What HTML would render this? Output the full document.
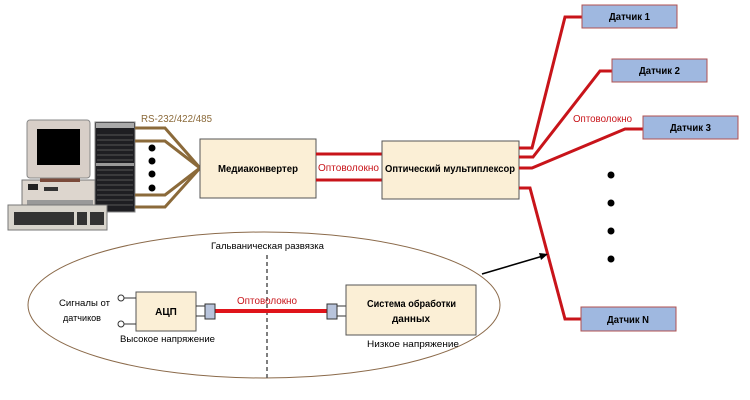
<!DOCTYPE html>
<html><head><meta charset="utf-8"><style>
body{margin:0;background:#fff;}
svg{display:block;font-family:"Liberation Sans","DejaVu Sans",sans-serif;}
</style></head><body>
<svg width="750" height="400" viewBox="0 0 750 400" xmlns="http://www.w3.org/2000/svg">
<!-- computer -->
<rect x="95" y="122" width="40" height="90" fill="#1e1e22" stroke="#888" stroke-width="1"/>
<g stroke="#555" stroke-width="1">
<line x1="97" y1="135" x2="133" y2="135"/><line x1="97" y1="140" x2="133" y2="140"/><line x1="97" y1="145" x2="133" y2="145"/><line x1="97" y1="150" x2="133" y2="150"/><line x1="97" y1="155" x2="133" y2="155"/><line x1="97" y1="160" x2="133" y2="160"/><line x1="97" y1="170" x2="133" y2="170"/><line x1="97" y1="175" x2="133" y2="175"/><line x1="97" y1="180" x2="133" y2="180"/><line x1="97" y1="185" x2="133" y2="185"/><line x1="97" y1="190" x2="133" y2="190"/><line x1="97" y1="195" x2="133" y2="195"/><line x1="97" y1="200" x2="133" y2="200"/><line x1="97" y1="205" x2="133" y2="205"/></g>
<rect x="96" y="123" width="38" height="5" fill="#aaa"/>
<rect x="96" y="163" width="38" height="3" fill="#999"/>
<rect x="22" y="180" width="73" height="28" fill="#ddd6ce" stroke="#777"/>
<rect x="28" y="184" width="10" height="6" fill="#222"/>
<rect x="44" y="187" width="14" height="4" fill="#333"/>
<rect x="27" y="200" width="66" height="5" fill="#999"/>
<rect x="40" y="176" width="40" height="6" fill="#7a4a3a"/>
<rect x="27" y="120" width="63" height="58" rx="3" fill="#d8cfc8" stroke="#888"/>
<rect x="37" y="129" width="43" height="36" fill="#000"/>
<rect x="8" y="205" width="99" height="25" fill="#d8d4cc" stroke="#777"/>
<rect x="14" y="212" width="60" height="13" fill="#333"/>
<rect x="77" y="212" width="10" height="13" fill="#333"/>
<rect x="90" y="212" width="14" height="13" fill="#333"/>
<!-- brown lines -->
<g stroke="#8b6a3a" stroke-width="3" fill="none">
<polyline points="135,128 165,128 200,168"/>
<polyline points="135,141 165,141 200,168"/>
<polyline points="135,195 165,195 200,168"/>
<polyline points="135,207 165,207 200,168"/>
</g>
<text x="141" y="122" font-size="10" fill="#8b6a3a" textLength="71" lengthAdjust="spacingAndGlyphs">RS-232/422/485</text>
<g fill="#000"><circle cx="152" cy="148" r="3.5"/><circle cx="152" cy="161" r="3.5"/><circle cx="152" cy="174" r="3.5"/><circle cx="152" cy="188" r="3.5"/></g>
<!-- media converter -->
<rect x="200" y="139" width="116" height="59" fill="#fbefd6" stroke="#555"/>
<text x="218" y="172" font-size="10.5" font-weight="bold" textLength="80" lengthAdjust="spacingAndGlyphs">Медиаконвертер</text>
<g stroke="#c8141a" stroke-width="3"><line x1="316" y1="154" x2="382" y2="154"/><line x1="316" y1="180" x2="382" y2="180"/></g>
<text x="318" y="171" font-size="10" fill="#c8141a" textLength="61" lengthAdjust="spacingAndGlyphs">Оптоволокно</text>
<rect x="382" y="141" width="137" height="58" fill="#fbefd6" stroke="#555"/>
<text x="385" y="172" font-size="10.5" font-weight="bold" textLength="130" lengthAdjust="spacingAndGlyphs">Оптический мультиплексор</text>
<!-- fibers to sensors -->
<g stroke="#c8141a" stroke-width="3" fill="none">
<polyline points="519,148 532,148 565,17 582,17"/>
<polyline points="519,157 533,157 600,71 612,71"/>
<polyline points="519,168 532,168 625,129 643,129"/>
<polyline points="519,188 530,188 565,319 581,319"/>
</g>
<text x="573" y="122" font-size="10" fill="#c8141a" textLength="59" lengthAdjust="spacingAndGlyphs">Оптоволокно</text>
<g stroke="#b05050" stroke-width="1" fill="#9fb8e0">
<rect x="582" y="5" width="95" height="23"/>
<rect x="612" y="59" width="95" height="23"/>
<rect x="643" y="116" width="95" height="23"/>
<rect x="581" y="307" width="95" height="24"/>
</g>
<g font-size="10" font-weight="bold">
<text x="609" y="20" textLength="41" lengthAdjust="spacingAndGlyphs">Датчик 1</text>
<text x="639" y="74" textLength="41" lengthAdjust="spacingAndGlyphs">Датчик 2</text>
<text x="670" y="131" textLength="41" lengthAdjust="spacingAndGlyphs">Датчик 3</text>
<text x="607" y="323" textLength="42" lengthAdjust="spacingAndGlyphs">Датчик N</text>
</g>
<g fill="#000"><circle cx="611" cy="175" r="3.5"/><circle cx="611" cy="203" r="3.5"/><circle cx="611" cy="231" r="3.5"/><circle cx="611" cy="259" r="3.5"/></g>
<!-- arrow -->
<line x1="482" y1="274" x2="543" y2="256" stroke="#000" stroke-width="1.5"/>
<polygon points="548,254 539,253 541,260" fill="#000"/>
<!-- ellipse -->
<ellipse cx="264" cy="305" rx="236" ry="73" fill="none" stroke="#8b6a4a" stroke-width="1"/>
<line x1="267" y1="255" x2="267" y2="378" stroke="#555" stroke-width="1.5" stroke-dasharray="4,3"/>
<text x="211" y="249" font-size="9" textLength="113" lengthAdjust="spacingAndGlyphs">Гальваническая развязка</text>
<rect x="136" y="292" width="60" height="39" fill="#fbefd6" stroke="#555"/>
<text x="166" y="315" font-size="10" font-weight="bold" text-anchor="middle">АЦП</text>
<g stroke="#333" stroke-width="1" fill="none">
<line x1="124" y1="298" x2="136" y2="298"/><line x1="124" y1="324" x2="136" y2="324"/>
<circle cx="121" cy="298" r="3" fill="#fff"/><circle cx="121" cy="324" r="3" fill="#fff"/>
<line x1="196" y1="306" x2="205" y2="306"/><line x1="196" y1="316" x2="205" y2="316"/>
<line x1="337" y1="306" x2="346" y2="306"/><line x1="337" y1="316" x2="346" y2="316"/>
</g>
<line x1="215" y1="311" x2="327" y2="311" stroke="#e0141a" stroke-width="4"/>
<rect x="205" y="304" width="10" height="15" fill="#b8c4dc" stroke="#333"/>
<rect x="327" y="304" width="10" height="15" fill="#b8c4dc" stroke="#333"/>
<text x="237" y="304" font-size="10" fill="#c8141a" textLength="60" lengthAdjust="spacingAndGlyphs">Оптоволокно</text>
<rect x="346" y="285" width="130" height="50" fill="#fbefd6" stroke="#555"/>
<text x="367" y="307" font-size="10" font-weight="bold" textLength="89" lengthAdjust="spacingAndGlyphs">Система обработки</text>
<text x="411" y="322" font-size="10" font-weight="bold" text-anchor="middle">данных</text>
<text x="59" y="306" font-size="9.5" textLength="51" lengthAdjust="spacingAndGlyphs">Сигналы от</text>
<text x="63" y="321" font-size="9.5" textLength="38" lengthAdjust="spacingAndGlyphs">датчиков</text>
<text x="120" y="342" font-size="9.5" textLength="95" lengthAdjust="spacingAndGlyphs">Высокое напряжение</text>
<text x="367" y="347" font-size="9.5" textLength="92" lengthAdjust="spacingAndGlyphs">Низкое напряжение</text>
</svg>
</body></html>
